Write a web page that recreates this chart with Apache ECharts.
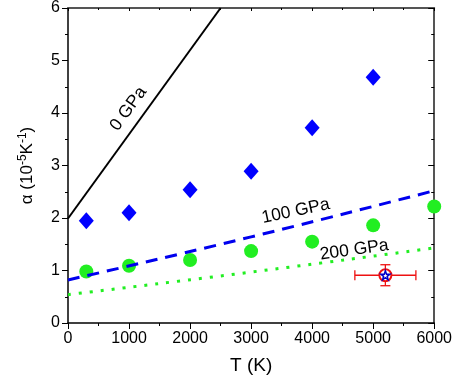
<!DOCTYPE html>
<html>
<head>
<meta charset="utf-8">
<script src="https://cdn.jsdelivr.net/npm/echarts@6/dist/echarts.min.js"></script>
<style>
  html,body{margin:0;padding:0;background:#fff;}
  #main{width:455px;height:381px;}
</style>
</head>
<body>
<div id="main"></div>
<script>
// calculated values (T in K, alpha in 1e-5/K)
var diamondT = [300, 1000, 2000, 3000, 4000, 5000];
var diamondA = [1.95, 2.10, 2.54, 2.89, 3.72, 4.68];
var circleT = [300, 1000, 2000, 3000, 4000, 5000, 6000];
var circleA = [0.98, 1.09, 1.20, 1.37, 1.55, 1.86, 2.22];
// curves
var line0T = [0, 2500];
var line0A = [1.99, 6.0];
var line100T = [0, 3000, 6000];
var line100A = [0.82, 1.64, 2.52];
var line200T = [0, 3000, 6000];
var line200A = [0.54, 0.97, 1.43];
// experimental point with errors
var expT = [5200];
var expA = [0.91];
var expTErr = [500];
var expAErr = [0.2];
// curve labels
var labelText = ['0 GPa', '100 GPa', '200 GPa'];
var labelT = [990, 3730, 4690];
var labelA = [4.08, 2.13, 1.39];
var labelRot = [54, 12, 8];

function pairs(xs, ys){
  var out = [];
  for (var i = 0; i < xs.length; i++) out.push([xs[i], ys[i]]);
  return out;
}

var chart = echarts.init(document.getElementById('main'));
var font = 'Arial, "Liberation Sans", sans-serif';
var starPath = 'path://M50,0 L61.8,34.5 L97.6,34.5 L68.8,55.9 L79.4,90.5 L50,69.1 L20.6,90.5 L31.2,55.9 L2.4,34.5 L38.2,34.5 Z';
var plain = function (v) { return String(v); };

var errData = [];
for (var i = 0; i < expT.length; i++) errData.push([expT[i], expA[i], expTErr[i], expAErr[i]]);

var labelData = [];
for (var j = 0; j < labelText.length; j++) labelData.push({value: [labelT[j], labelA[j]], name: labelText[j]});

var option = {
  animation: false,
  grid: {left: 68, right: 17, top: 7, bottom: 58},
  xAxis: [{
    type: 'value', min: 0, max: 6000, interval: 1000,
    name: 'T (K)', nameLocation: 'middle', nameGap: 33,
    nameTextStyle: {fontSize: 19, color: '#000', fontFamily: font},
    axisLine: {onZero: false, lineStyle: {color: '#000', width: 1.5}},
    axisTick: {inside: false, length: 6, lineStyle: {color: '#000'}},
    minorTick: {show: true, splitNumber: 2, length: 3, lineStyle: {color: '#000'}},
    axisLabel: {fontSize: 16, color: '#000', fontFamily: font, margin: 8, formatter: plain},
    splitLine: {show: false}
  }, {
    type: 'value', min: 0, max: 6000, interval: 1000, position: 'top', show: true,
    axisLine: {show: true, onZero: false, lineStyle: {color: '#555', width: 2}},
    axisTick: {show: true, inside: true, length: 3, lineStyle: {color: '#000'}},
    minorTick: {show: true, splitNumber: 2, length: 2, lineStyle: {color: '#000'}},
    axisLabel: {show: false}, splitLine: {show: false}
  }],
  yAxis: [{
    type: 'value', min: 0, max: 6, interval: 1,
    name: '{a|α (10}{s|-5}{a|K}{s|-1}{a|)}', nameLocation: 'middle', nameGap: 30,
    nameTextStyle: {
      color: '#000', fontFamily: font,
      rich: {
        a: {fontSize: 17, fontFamily: font, color: '#000'},
        s: {fontSize: 12, fontFamily: font, color: '#000', verticalAlign: 'bottom', padding: [0, 0, 9, 0]}
      }
    },
    axisLine: {onZero: false, lineStyle: {color: '#000', width: 1.5}},
    axisTick: {inside: false, length: 6, lineStyle: {color: '#000'}},
    minorTick: {show: true, splitNumber: 2, length: 3, lineStyle: {color: '#000'}},
    axisLabel: {fontSize: 16, color: '#000', fontFamily: font, margin: 8, formatter: plain},
    splitLine: {show: false}
  }, {
    type: 'value', min: 0, max: 6, interval: 1, position: 'right', show: true,
    axisLine: {show: true, onZero: false, lineStyle: {color: '#555', width: 2}},
    axisTick: {show: true, inside: true, length: 6, lineStyle: {color: '#000'}},
    minorTick: {show: true, splitNumber: 2, length: 3, lineStyle: {color: '#000'}},
    axisLabel: {show: false}, splitLine: {show: false}
  }],
  series: [{
    type: 'line', data: pairs(line0T, line0A), showSymbol: false,
    lineStyle: {color: '#000', width: 2}
  }, {
    type: 'line', data: pairs(line100T, line100A), showSymbol: false, smooth: true,
    lineStyle: {color: '#0000ee', width: 3, type: [12, 8]}
  }, {
    type: 'line', data: pairs(line200T, line200A), showSymbol: false, smooth: true,
    lineStyle: {color: '#22ee22', width: 3, type: [3, 8]}
  }, {
    type: 'scatter', data: pairs(diamondT, diamondA), symbol: 'diamond', symbolSize: [15, 17],
    itemStyle: {color: '#0000ff', opacity: 1}
  }, {
    type: 'scatter', data: pairs(circleT, circleA), symbol: 'circle', symbolSize: 14,
    itemStyle: {color: '#22ee22', opacity: 1}
  }, {
    type: 'custom', data: errData,
    renderItem: function (params, api) {
      var x = api.value(0), y = api.value(1), dx = api.value(2), dy = api.value(3);
      var l = api.coord([x - dx, y]), r = api.coord([x + dx, y]);
      var t = api.coord([x, y + dy]), b = api.coord([x, y - dy]);
      var st = {stroke: '#ee1111', lineWidth: 1.3};
      var cap = 5;
      return {type: 'group', children: [
        {type: 'line', shape: {x1: l[0], y1: l[1], x2: r[0], y2: r[1]}, style: st},
        {type: 'line', shape: {x1: t[0], y1: t[1], x2: b[0], y2: b[1]}, style: st},
        {type: 'line', shape: {x1: l[0], y1: l[1] - cap, x2: l[0], y2: l[1] + cap}, style: st},
        {type: 'line', shape: {x1: r[0], y1: r[1] - cap, x2: r[0], y2: r[1] + cap}, style: st},
        {type: 'line', shape: {x1: t[0] - cap, y1: t[1], x2: t[0] + cap, y2: t[1]}, style: st},
        {type: 'line', shape: {x1: b[0] - cap, y1: b[1], x2: b[0] + cap, y2: b[1]}, style: st}
      ]};
    }
  }, {
    type: 'scatter', data: pairs(expT, expA), symbol: 'circle', symbolSize: 12,
    itemStyle: {color: '#fff', borderColor: '#ee1111', borderWidth: 2, opacity: 1}
  }, {
    type: 'scatter', data: pairs(expT, expA), symbol: starPath, symbolSize: 9,
    itemStyle: {color: '#fff', borderColor: '#0000cc', borderWidth: 1.5, opacity: 1}
  }, {
    type: 'custom', data: labelData,
    renderItem: function (params, api) {
      var p = api.coord([api.value(0), api.value(1)]);
      return {
        type: 'text', x: p[0], y: p[1],
        rotation: labelRot[params.dataIndex] * Math.PI / 180,
        style: {text: labelText[params.dataIndex], fill: '#000', fontSize: 17.5, fontFamily: font, align: 'center', verticalAlign: 'middle'}
      };
    }
  }, {
    // binds the top and right frame axes
    type: 'line', xAxisIndex: 1, yAxisIndex: 1, data: [], silent: true
  }]
};
chart.setOption(option);
</script>
</body>
</html>
